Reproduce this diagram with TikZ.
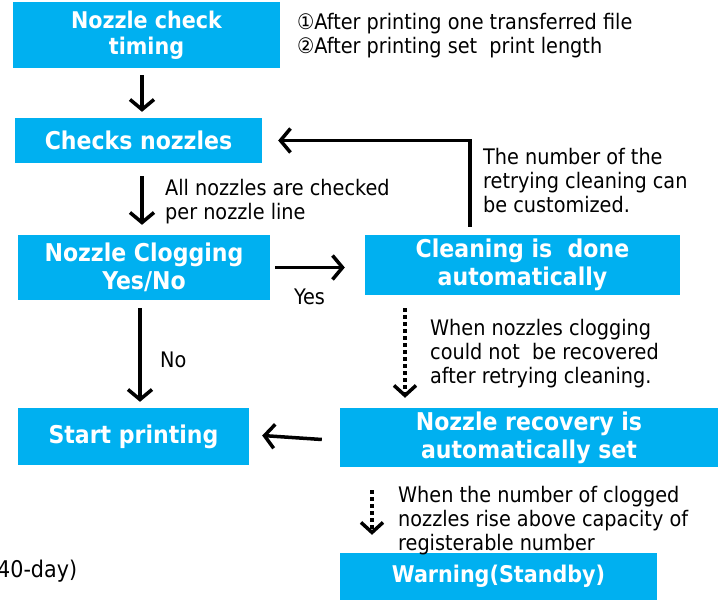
\documentclass[tikz,border=0pt]{standalone}
\usepackage{fontspec}
\setmainfont{DejaVu Sans Condensed}
\usetikzlibrary{arrows.meta,calc}
\definecolor{boxcyan}{HTML}{00B0F0}
\tikzset{
  x=1pt,y=-1pt,
  stepbox/.style={fill=boxcyan,draw=none,inner sep=0pt,align=center,text=white,
    font=\fontsize{24.5}{28}\selectfont\bfseries},
  smallbox/.style={stepbox,font=\fontsize{23}{26}\selectfont\bfseries},
  note/.style={align=left,anchor=west,inner sep=0pt,font=\fontsize{21.4}{24}\selectfont},
  arr/.style={line width=3.5pt,-{Straight Barb[length=10pt,width=24pt,line width=3.5pt]}},
  dotarr/.style={line width=3.5pt,dash pattern=on 4pt off 3pt,-{Straight Barb[length=10pt,width=22pt,line width=3.5pt]}}
}
\begin{document}
\begin{tikzpicture}
\useasboundingbox (0,0) rectangle (718,602);
\node[smallbox,minimum width=267pt,minimum height=66pt] (b1) at (146.5,35) {Nozzle check\\timing};
\node[stepbox,minimum width=247pt,minimum height=45pt] (b2) at (138.5,140.5) {Checks nozzles};
\node[stepbox,minimum width=252pt,minimum height=65pt] (b3) at (144,267.5) {Nozzle Clogging\\Yes/No};
\node[stepbox,minimum width=315pt,minimum height=60pt] (b4) at (522.5,265) {Cleaning is\ \ done\\automatically};
\node[stepbox,minimum width=231pt,minimum height=57pt] (b5) at (133.5,436.5) {Start printing};
\node[stepbox,minimum width=378pt,minimum height=59pt] (b6) at (529,437.5) {Nozzle recovery is\\automatically set};
\node[smallbox,minimum width=317pt,minimum height=47pt] (b7) at (498.5,576.5) {Warning(Standby)};

\node[note] (t1) at (297,36) {①After printing one transferred file\\②After printing set\ \ print length};
\node[note] (t2) at (483,181) {The number of the\\retrying cleaning can\\be customized.};
\node[note] (t3) at (165,201.5) {All nozzles are checked\\per nozzle line};
\node[note] (t4) at (294,297) {Yes};
\node[note] (t5) at (160,360) {No};
\node[note] (t6) at (430,354) {When nozzles clogging\\could not\ \ be recovered\\after retrying cleaning.};
\node[note] (t7) at (398,521) {When the number of clogged\\nozzles rise above capacity of\\registerable number};
\node[note,font=\fontsize{23}{26}\selectfont] (t8) at (-3,571) {40-day)};

\draw[arr] ([xshift=-4.5pt,yshift=-7pt]b1.south) -- ([xshift=3.5pt,yshift=6pt]b2.north);
\draw[arr] ([xshift=3.5pt,yshift=-13pt]b2.south) -- ([xshift=-2pt,yshift=10pt]b3.north);
\draw[arr] ([xshift=-52.5pt,yshift=8pt]b4.north) |- ([xshift=16pt]b2.east);
\draw[arr] ([xshift=5pt]b3.east) -- ($(b4.west |- b3.east)+(-20,0)$);
\draw[arr] ([xshift=-4pt,yshift=-8pt]b3.south) -- ([xshift=6.5pt,yshift=6pt]b5.north);
\draw[dotarr] ([xshift=-117.5pt,yshift=-13pt]b4.south) -- ([xshift=-124pt,yshift=10pt]b6.north);
\draw[arr] ([xshift=-18pt,yshift=-2pt]b6.west) -- ($(b5.east)+(13,-1)$);
\draw[dotarr] ([xshift=-157pt,yshift=-23pt]b6.south) -- ([xshift=-126.5pt,yshift=18pt]b7.north);
\end{tikzpicture}
\end{document}
